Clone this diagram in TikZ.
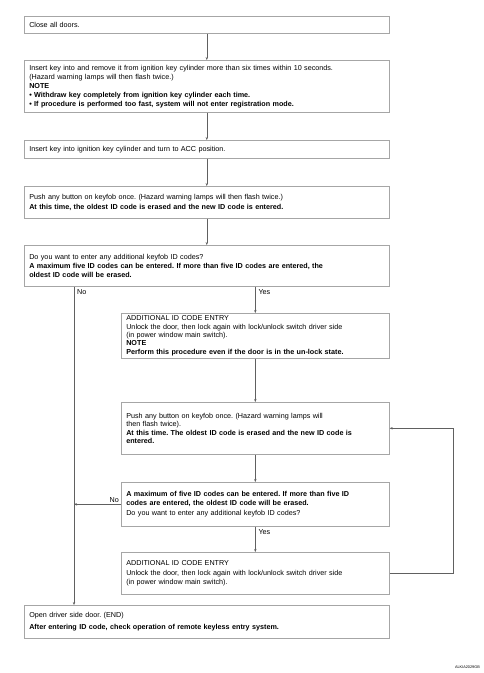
\documentclass[tikz,border=0pt]{standalone}
\usepackage{fontspec}
\setmainfont{Liberation Sans}
\usetikzlibrary{arrows.meta}
\frenchspacing
\tikzset{
  box/.style={draw=gray!70, line width=0.6pt, fill=white, inner xsep=5pt, inner ysep=0pt,
    align=left, anchor=north west, font=\fontsize{7.2}{8.7}\selectfont},
  wide/.style={minimum width=365pt, text width=355pt},
  narrow/.style={minimum width=268pt, text width=258pt},
  conn/.style={draw=gray!75!black, line width=0.6pt, -{Stealth[length=3pt,width=2.4pt]}},
  lbl/.style={font=\fontsize{7.2}{8}\selectfont, inner sep=0pt}
}
\begin{document}
\begin{tikzpicture}[x=1pt,y=-1pt]
\useasboundingbox (0,0) rectangle (484,673);
\node[box,wide,minimum height=17pt] (b1) at (24,16) {Close all doors.};
\node[box,wide,minimum height=52pt,font=\fontsize{7.2}{9}\selectfont] (b2) at (24,60) {Insert key into and remove it from ignition key cylinder more than six times within 10 seconds.\\(Hazard warning lamps will then flash twice.)\\\textbf{NOTE}\\\textbf{\textbullet\ Withdraw key completely from ignition key cylinder each time.}\\\textbf{\textbullet\ If procedure is performed too fast, system will not enter registration mode.}};
\node[box,wide,minimum height=18pt] (b3) at (24,140) {Insert key into ignition key cylinder and turn to ACC position.};
\node[box,wide,minimum height=32pt,font=\fontsize{7.2}{10}\selectfont] (b4) at (24,186) {Push any button on keyfob once. (Hazard warning lamps will then flash twice.)\\\textbf{At this time, the oldest ID code is erased and the new ID code is entered.}};
\node[box,wide,minimum height=41pt] (b5) at (24,245) {Do you want to enter any additional keyfob ID codes?\\\textbf{A maximum five ID codes can be entered. If more than five ID codes are entered, the}\\\textbf{oldest ID code will be erased.}};
\node[box,narrow,minimum height=45pt,font=\fontsize{7.2}{8.3}\selectfont] (b6) at (121,313) {ADDITIONAL ID CODE ENTRY\\Unlock the door, then lock again with lock/unlock switch driver side\\(in power window main switch).\\\textbf{NOTE}\\\textbf{Perform this procedure even if the door is in the un-lock state.}};
\node[box,narrow,minimum height=52pt,font=\fontsize{7.2}{8.3}\selectfont] (b7) at (121,402) {Push any button on keyfob once. (Hazard warning lamps will\\then flash twice).\\\textbf{At this time. The oldest ID code is erased and the new ID code is}\\\textbf{entered.}};
\node[box,narrow,minimum height=44pt,font=\fontsize{7.2}{9.5}\selectfont] (b8) at (121,482) {\textbf{A maximum of five ID codes can be entered. If more than five ID}\\\textbf{codes are entered, the oldest ID code will be erased.}\\[0.5pt]Do you want to enter any additional keyfob ID codes?};
\node[box,narrow,minimum height=42pt,font=\fontsize{7.2}{9.4}\selectfont] (b9) at (121,552) {ADDITIONAL ID CODE ENTRY\\Unlock the door, then lock again with lock/unlock switch driver side\\(in power window main switch).};
\node[box,wide,minimum height=33pt,font=\fontsize{7.2}{11.5}\selectfont] (b10) at (24,605) {Open driver side door. (END)\\\textbf{After entering ID code, check operation of remote keyless entry system.}};
\coordinate (noTop) at ([xshift=50pt]b5.south west);
\coordinate (noEnd) at ([xshift=50pt]b10.north west);
\coordinate (loopR) at ([xshift=64pt]b9.east);
\draw[conn] (b1) -- (b2);
\draw[conn] (b2) -- (b3);
\draw[conn] (b3) -- (b4);
\draw[conn] (b4) -- (b5);
\draw[conn] (b6.north |- b5.south) -- (b6.north);
\draw[conn] (noTop) -- (noEnd);
\draw[conn] (b6) -- (b7);
\draw[conn] (b7) -- (b8);
\draw[conn] (b8) -- (b9);
\draw[conn] (b8.west) -- (b8.west -| noTop);
\draw[conn] (b9.east) -- (loopR) |- (b7.east);
\node[lbl, anchor=north west] (lno1) at ([xshift=3pt,yshift=-3pt]noTop) {No};
\node[lbl, anchor=north west] (lyes1) at ([xshift=3pt,yshift=-3pt]b6.north |- b5.south) {Yes};
\node[lbl, anchor=south east] (lno2) at ([xshift=-2pt,yshift=1.5pt]b8.west) {No};
\node[lbl, anchor=north west] (lyes2) at ([xshift=3pt,yshift=-3pt]b8.south) {Yes};
\node[font=\fontsize{3.8}{4}\selectfont, inner sep=0pt, anchor=east] (code) at (480,667) {ALKIA2029GB};
\end{tikzpicture}
\end{document}
